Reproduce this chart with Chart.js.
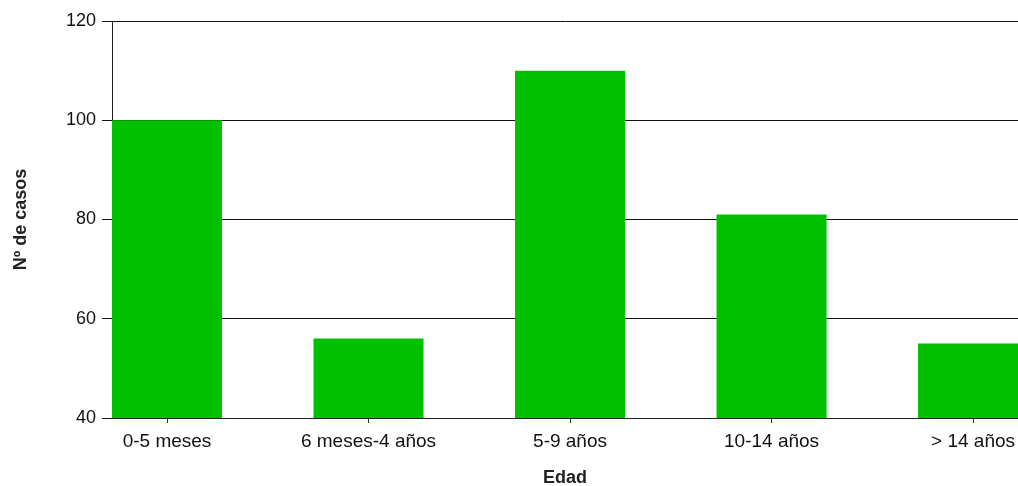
<!DOCTYPE html>
<html lang="es">
<head>
    <meta charset="UTF-8">
    <title>Nº de casos por edad</title>
    <style>
        body {
            margin: 0;
            background: #fff;
            overflow: hidden;
        }
        #chart-container {
            width: 1018px;
            height: 486px;
        }
    </style>
    <script src="https://cdn.jsdelivr.net/npm/chart.js"></script>
</head>
<body>
    <div id="chart-container">
        <canvas id="edadChart"></canvas>
    </div>

    <script>
        // Data
        const categories = ['0-5 meses', '6 meses-4 años', '5-9 años', '10-14 años', '> 14 años'];
        const casos = [100, 56, 110, 81, 55];
        const yTicks = [40, 60, 80, 100, 120];

        const fontFamily = '"Liberation Sans", Arial, sans-serif';

        const ctx = document.getElementById('edadChart').getContext('2d');
        const edadChart = new Chart(ctx, {
            type: 'bar',
            data: {
                datasets: [{
                    label: 'Nº de casos',
                    data: casos.map((v, i) => ({ x: i, y: v })),
                    backgroundColor: '#00c000',
                    borderWidth: 0,
                    categoryPercentage: 1,
                    barPercentage: 0.546
                }]
            },
            options: {
                responsive: true,
                maintainAspectRatio: false,
                animation: false,
                layout: {
                    padding: { top: 21, right: 0, bottom: 0, left: 0 }
                },
                plugins: {
                    legend: { display: false },
                    tooltip: { enabled: false }
                },
                scales: {
                    x: {
                        type: 'linear',
                        offset: false,
                        min: -0.273,
                        max: 4.223,
                        afterBuildTicks: (scale) => {
                            scale.ticks = categories.map((_, i) => ({ value: i }));
                        },
                        afterFit: (scale) => {
                            // keep the plot running to the right edge, like the original
                            scale.height = 68;
                            scale.paddingLeft = 0;
                            scale.paddingRight = 0;
                        },
                        grid: {
                            offset: false,
                            drawOnChartArea: false,
                            drawTicks: true,
                            tickLength: 5,
                            color: '#333'
                        },
                        border: { display: true, color: '#222', width: 1 },
                        ticks: {
                            callback: (v) => categories[v],
                            color: '#111',
                            padding: 7,
                            maxRotation: 0,
                            autoSkip: false,
                            font: { family: fontFamily, size: 19 }
                        },
                        title: {
                            display: true,
                            text: 'Edad',
                            color: '#222',
                            padding: { top: 9, bottom: -3 },
                            font: { family: fontFamily, size: 18, weight: 'bold' }
                        }
                    },
                    y: {
                        min: yTicks[0],
                        max: yTicks[yTicks.length - 1],
                        afterBuildTicks: (scale) => {
                            scale.ticks = yTicks.map(v => ({ value: v }));
                        },
                        afterFit: (scale) => {
                            scale.width = 112;
                        },
                        grid: {
                            color: '#111',
                            lineWidth: 1,
                            tickLength: 10
                        },
                        border: { display: true, color: '#222', width: 1 },
                        ticks: {
                            color: '#111',
                            padding: 6,
                            font: { family: fontFamily, size: 18 }
                        },
                        title: {
                            display: true,
                            text: 'Nº de casos',
                            color: '#222',
                            padding: { top: 10, bottom: 4 },
                            font: { family: fontFamily, size: 18, weight: 'bold' }
                        }
                    }
                }
            }
        });
    </script>
</body>
</html>
